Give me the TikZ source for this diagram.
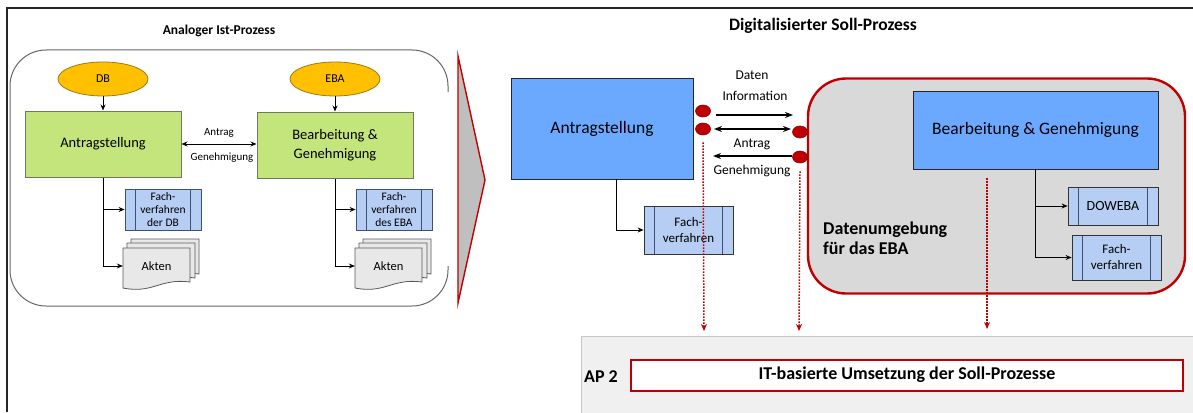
\documentclass[tikz,border=0pt]{standalone}
\usepackage{fontspec}
\setmainfont{Carlito}
\usetikzlibrary{arrows.meta,shapes.geometric,calc}
\definecolor{ggreen}{RGB}{196,228,124}
\definecolor{gborder}{RGB}{110,120,100}
\definecolor{eorange}{RGB}{255,192,0}
\definecolor{eborder}{RGB}{160,120,20}
\definecolor{fblue}{RGB}{182,206,244}
\definecolor{fborder}{RGB}{60,80,120}
\definecolor{bblue}{RGB}{106,169,255}
\definecolor{dred}{RGB}{192,0,0}
\definecolor{envgray}{RGB}{217,217,217}
\definecolor{docgray}{RGB}{232,232,232}
\definecolor{panelgray}{RGB}{240,240,240}
\newcommand{\docpage}[4]{%
  \filldraw[draw=black!65, fill=docgray, line width=0.8pt] (#1,#2) -- (#3,#2) -- (#3,#4-6)
    .. controls ({#1+0.55*(#3-#1)},#4-10) and ({#1+0.45*(#3-#1)},#4+6) .. (#1,#4) -- cycle;}
\tikzset{
  ell/.style={ellipse, draw=eborder, fill=eorange, line width=0.8pt, minimum width=90pt, minimum height=34pt, inner sep=0pt, font=\fontsize{12}{14}\selectfont},
  gbox/.style={rectangle, draw=gborder, fill=ggreen, line width=1pt, minimum width=156pt, minimum height=66pt, align=center, font=\fontsize{14.5}{19}\selectfont},
  fach/.style={rectangle, draw=fborder, fill=fblue, line width=0.8pt, inner sep=0pt, align=center,
    path picture={
      \draw[fborder, line width=0.8pt] ([xshift=10.5pt]path picture bounding box.north west) -- ([xshift=10.5pt]path picture bounding box.south west);
      \draw[fborder, line width=0.8pt] ([xshift=-10.5pt]path picture bounding box.north east) -- ([xshift=-10.5pt]path picture bounding box.south east);}},
  fachL/.style={fach, minimum width=76pt, minimum height=41pt, font=\fontsize{11.5}{13}\selectfont},
  fachR/.style={fach, draw=black!80, minimum width=89pt, font=\fontsize{13}{16}\selectfont},
  bbox/.style={rectangle, draw=black!85, fill=bblue, line width=0.8pt, font=\fontsize{17.5}{20}\selectfont},
  dot/.style={ellipse, draw=red!50!black, fill=dred, line width=0.6pt, minimum width=15pt, minimum height=12pt, inner sep=0pt},
  arr/.style={-{Stealth[length=6pt,width=5pt]}, line width=0.9pt, black},
  arrR/.style={-{Stealth[length=8pt,width=6pt]}, line width=1.3pt, black},
  dotarr/.style={-{Stealth[length=7pt,width=6pt]}, dred, line width=1.5pt, dash pattern=on 1.5pt off 1.5pt},
  lbl/.style={font=\fontsize{11}{13}\selectfont, inner sep=0pt},
  lblR/.style={font=\fontsize{13.5}{15}\selectfont, inner sep=0pt}
}
\begin{document}
\begin{tikzpicture}[x=1pt,y=-1pt]
\useasboundingbox (0,0) rectangle (1193,412);
% frame
\draw[line width=2pt, black!85] (1193,8) -- (7,8) -- (7,412);
% titles
\node[font=\bfseries\fontsize{13.5}{15}\selectfont] (t1) at (219,31) {Analoger Ist-Prozess};
\node[font=\bfseries\fontsize{17.5}{19}\selectfont] (t2) at (823,26) {Digitalisierter Soll-Prozess};
% left rounded frame
\draw[black!60, line width=1pt, rounded corners=36pt] (448,92) -- (448,50) -- (10,50) -- (10,306) -- (448,306) -- (448,266);
% left process
\node[ell] (db) at (103,79) {DB};
\node[ell] (eba) at (335,79) {EBA};
\node[gbox] (antL) at (103,144) {Antragstellung};
\node[gbox] (bearL) at (335,145) {Bearbeitung \&\\Genehmigung};
\draw[arr] (db) -- (antL);
\draw[arr] (eba) -- (bearL);
\draw[{Stealth[length=6pt,width=5pt]}-{Stealth[length=6pt,width=5pt]}, line width=0.9pt] (antL.east) -- (bearL.west |- antL.east);
\node[lbl] (antrL) at (219,133) {Antrag};
\node[lbl] (genL) at (222,158) {Genehmigung};
\node[fachL] (fachDB) at (163,209.5) {Fach-\\verfahren\\der DB};
\node[fachL] (fachEBA) at (394,209.5) {Fach-\\verfahren\\des EBA};
% Akten stacks
\docpage{131}{239}{199}{280}
\docpage{127}{243}{195}{284}
\docpage{123}{248}{190}{288}
\docpage{363}{239}{431}{280}
\docpage{359}{243}{427}{284}
\docpage{355}{248}{422}{288}
\node[minimum width=67pt, minimum height=30pt, inner sep=0pt, font=\fontsize{12.5}{14}\selectfont] (aktDB) at (156.5,266) {Akten};
\node[minimum width=67pt, minimum height=30pt, inner sep=0pt, font=\fontsize{12.5}{14}\selectfont] (aktEBA) at (388.5,266) {Akten};
\draw[arr] (antL.south) |- (fachDB.west);
\draw[arr] (antL.south) |- (aktDB.west);
\draw[arr] (bearL.south) |- (fachEBA.west);
\draw[arr] (bearL.south) |- (aktEBA.west);
% big arrow
\filldraw[draw=dred, fill=black!25, line width=1.4pt] (458,56) -- (485,180) -- (458,303) -- cycle;
% right side
\node[draw=dred, fill=envgray, line width=2.4pt, rounded corners=38pt, minimum width=377pt, minimum height=215pt] (env) at (996.5,186) {};
\node[bbox, minimum width=182pt, minimum height=101pt] (antR) at (602,128.5) {Antragstellung};
\node[bbox, minimum width=245pt, minimum height=78pt] (bearR) at (1035.5,130) {Bearbeitung \& Genehmigung};
\node[dot] (d1) at (703,111) {};
\node[dot] (d2) at (703,129) {};
\node[dot] (d3) at (800,132) {};
\node[dot] (d4) at (800,157) {};
\coordinate (a1s) at (716,115);
\coordinate (a1e) at (793,115);
\coordinate (a2s) at (714,129);
\coordinate (a2e) at (791,129);
\coordinate (a3s) at (792,156);
\coordinate (a3e) at (713,156);
\draw[arrR] (a1s) -- (a1e);
\draw[{Stealth[length=8pt,width=6pt]}-{Stealth[length=8pt,width=6pt]}, line width=1.3pt] (a2s) -- (a2e);
\draw[arrR] (a3s) -- (a3e);
\node[lblR] (daten) at (752,75) {Daten};
\node[lblR] (info) at (755,96) {Information};
\node[lblR] (antrR) at (752,144) {Antrag};
\node[lblR] (genR) at (752,171) {Genehmigung};
\node[fachR, minimum height=48pt] (fachR1) at (688.5,230) {Fach-\\verfahren};
\node[fachR, minimum width=90pt, minimum height=38pt, font=\fontsize{14}{16}\selectfont] (doweba) at (1113,206) {DOWEBA};
\node[fachR, minimum height=45pt] (fachR2) at (1116.5,257.5) {Fach-\\verfahren};
\draw[arr] ([xshift=14pt]antR.south) |- (fachR1.west);
\draw[arr] (bearR.south) |- (doweba.west);
\draw[arr] (bearR.south) |- (fachR2.west);
\node[font=\bfseries\fontsize{18}{20}\selectfont, align=left, anchor=west, inner sep=0pt] (du) at (823,238) {Datenumgebung\\für das EBA};
% bottom panel
\node[draw=black!22, fill=panelgray, line width=1pt, anchor=north west, minimum width=630pt, minimum height=90pt] (panel) at (581,336) {};
\node[font=\bfseries\fontsize{18}{20}\selectfont] (ap) at (601,377) {AP 2};
\node[draw=dred, fill=white, line width=2pt, minimum width=552pt, minimum height=31pt, font=\bfseries\fontsize{18}{20}\selectfont] (it) at (907,375) {IT-basierte Umsetzung der Soll-Prozesse};
% dotted arrows
\coordinate (p1) at (704,331);
\coordinate (p2) at (799,331);
\coordinate (p3s) at (987,178);
\coordinate (p3) at (987,329);
\draw[dotarr] ([yshift=-7pt]d2.south) -- (p1);
\draw[dotarr] ([yshift=-8pt]d4.south) -- (p2);
\draw[dotarr] (p3s) -- (p3);
\end{tikzpicture}
\end{document}
